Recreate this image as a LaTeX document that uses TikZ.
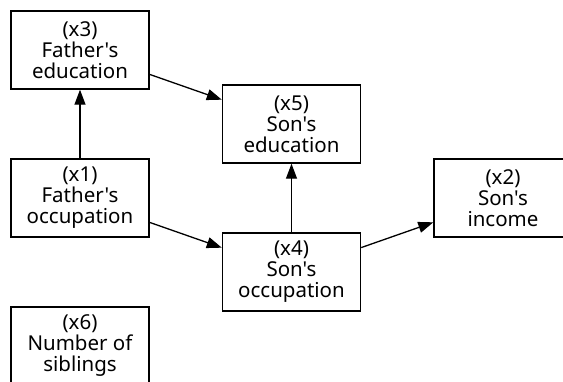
\documentclass[tikz,border=0pt]{standalone}
\usepackage{fontspec}
\newfontfamily\nsans{Noto Sans}
\usetikzlibrary{arrows.meta}
\begin{document}
\begin{tikzpicture}[x=1pt,y=1pt,
  box/.style={draw=black,line width=1.4pt,minimum width=138pt,minimum height=78pt,
    align=center,inner sep=0pt,font=\nsans\fontsize{20.5}{21}\selectfont},
  conn/.style={line width=1.3pt,-{Triangle[length=15pt,width=11pt]}}]
\useasboundingbox (0,0) rectangle (563,-381);
\clip (0,0) rectangle (563,-381);
\node[box] (x3) at (80,-50) {(x3)\\Father's\\education};
\node[box] (x1) at (80,-198) {(x1)\\Father's\\occupation};
\node[box] (x5) at (291.5,-124) {(x5)\\Son's\\education};
\node[box] (x4) at (291.5,-272) {(x4)\\Son's\\occupation};
\node[box] (x2) at (503,-198) {(x2)\\Son's\\income};
\node[box] (x6) at (80,-346) {(x6)\\Number of\\siblings};
\draw[conn] (x1) -- (x3);
\draw[conn] (x3) -- (x5);
\draw[conn] (x1) -- (x4);
\draw[conn] (x4) -- (x5);
\draw[conn] (x4) -- (x2);
\end{tikzpicture}
\end{document}
